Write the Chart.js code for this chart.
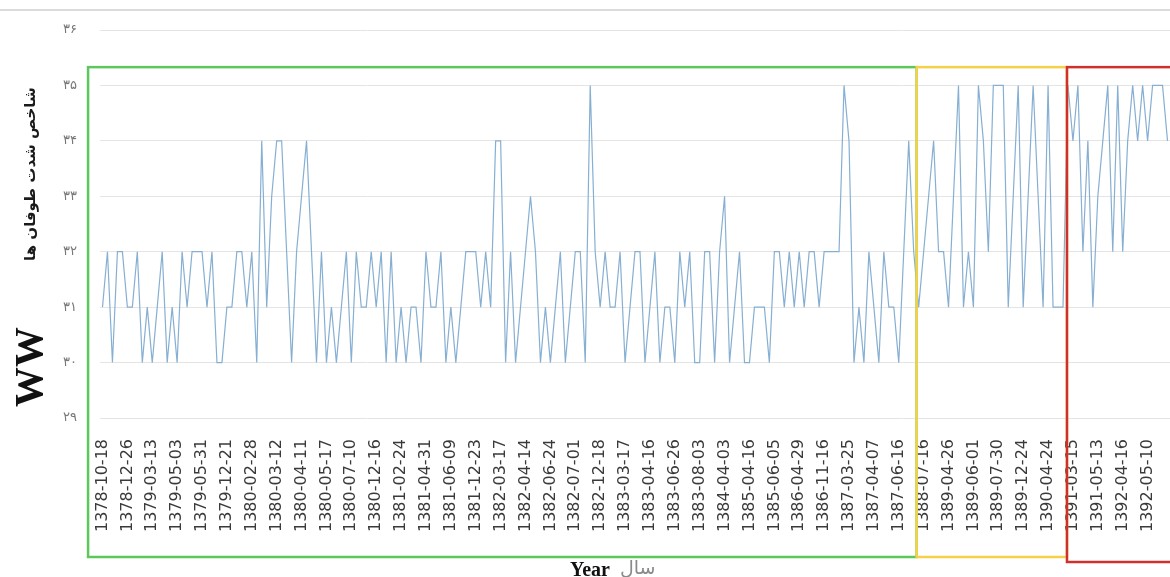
<!DOCTYPE html>
<html>
<head>
<meta charset="utf-8">
<script src="https://cdn.jsdelivr.net/npm/chart.js@4.4.1/dist/chart.umd.min.js"></script>
<style>
  body { margin: 0; background: #fff; }
  #wrap { width: 1170px; height: 577px; position: relative; }
</style>
</head>
<body>
<div id="wrap"><canvas id="storms"></canvas></div>
<script>
// tick labels shown on the x axis (one every 5 records)
const tickLabels = [
    "1378-10-18", "1378-12-26", "1379-03-13", "1379-05-03", "1379-05-31", "1379-12-21",
    "1380-02-28", "1380-03-12", "1380-04-11", "1380-05-17", "1380-07-10", "1380-12-16",
    "1381-02-24", "1381-04-31", "1381-06-09", "1381-12-23", "1382-03-17", "1382-04-14",
    "1382-06-24", "1382-07-01", "1382-12-18", "1383-03-17", "1383-04-16", "1383-06-26",
    "1383-08-03", "1384-04-03", "1385-04-16", "1385-06-05", "1386-04-29", "1386-11-16",
    "1387-03-25", "1387-04-07", "1387-06-16", "1388-07-16", "1389-04-26", "1389-06-01",
    "1389-07-30", "1389-12-24", "1390-04-24", "1391-03-15", "1391-05-13", "1392-04-16",
    "1392-05-10"
];
const labelStep = 5;

// storm intensity index WW, one value per record
const wwValues = [
    31, 32, 30, 32, 32, 31, 31, 32, 30, 31,
    30, 31, 32, 30, 31, 30, 32, 31, 32, 32,
    32, 31, 32, 30, 30, 31, 31, 32, 32, 31,
    32, 30, 34, 31, 33, 34, 34, 32, 30, 32,
    33, 34, 32, 30, 32, 30, 31, 30, 31, 32,
    30, 32, 31, 31, 32, 31, 32, 30, 32, 30,
    31, 30, 31, 31, 30, 32, 31, 31, 32, 30,
    31, 30, 31, 32, 32, 32, 31, 32, 31, 34,
    34, 30, 32, 30, 31, 32, 33, 32, 30, 31,
    30, 31, 32, 30, 31, 32, 32, 30, 35, 32,
    31, 32, 31, 31, 32, 30, 31, 32, 32, 30,
    31, 32, 30, 31, 31, 30, 32, 31, 32, 30,
    30, 32, 32, 30, 32, 33, 30, 31, 32, 30,
    30, 31, 31, 31, 30, 32, 32, 31, 32, 31,
    32, 31, 32, 32, 31, 32, 32, 32, 32, 35,
    34, 30, 31, 30, 32, 31, 30, 32, 31, 31,
    30, 32, 34, 32, 31, 32, 33, 34, 32, 32,
    31, 33, 35, 31, 32, 31, 35, 34, 32, 35,
    35, 35, 31, 33, 35, 31, 33, 35, 33, 31,
    35, 31, 31, 31, 35, 34, 35, 32, 34, 31,
    33, 34, 35, 32, 35, 32, 34, 35, 34, 35,
    34, 35, 35, 35, 34
];

// periods framed on the chart: [first index, last index, colour]
const periods = [
    [-2.9, 163.6, "#5cc85c"],
    [163.6, 193.8, "#f3d24a"],
    [193.8, 216, "#d0302c"]
];

const yTicks = [29, 30, 31, 32, 33, 34, 35, 36];
const yTitle = "شاخص شدت طوفان ها";
const ySymbol = "WW";

const categories = wwValues.map((v, i) => i % labelStep === 0 ? (tickLabels[i / labelStep] || "") : "");

function toPersian(n) {
    return String(n).replace(/[0-9]/g, d => "۰۱۲۳۴۵۶۷۸۹"[d]);
}

const decorations = {
    id: "decorations",
    afterDraw(chart) {
        const ctx = chart.ctx;
        const x = chart.scales.x;
        const y = chart.scales.y;
        const dpr = chart.currentDevicePixelRatio;
        ctx.save();

        // thin frame line at the very top
        ctx.strokeStyle = "#cfcfcf";
        ctx.lineWidth = 1.5;
        ctx.beginPath();
        ctx.moveTo(0, 10);
        ctx.lineTo(chart.width, 10);
        ctx.stroke();

        // coloured period boxes
        const top = y.getPixelForValue(35.33);
        periods.forEach((p, k) => {
            const x0 = x.getPixelForValue(p[0]);
            const x1 = x.getPixelForValue(p[1]);
            const bottom = chart.height - (k === 2 ? 15 : 20);
            ctx.strokeStyle = p[2];
            ctx.lineWidth = 2.5;
            ctx.strokeRect(x0, top, x1 - x0, bottom - top);
        });

        // y axis titles
        ctx.fillStyle = "#1a1a1a";
        ctx.textAlign = "center";
        ctx.textBaseline = "middle";
        ctx.translate(31, y.getPixelForValue(33.4));
        ctx.rotate(-Math.PI / 2);
        ctx.font = "bold 15px 'DejaVu Sans'";
        ctx.fillText(yTitle, 0, 0);
        ctx.setTransform(dpr, 0, 0, dpr, 0, 0);
        ctx.translate(32, y.getPixelForValue(29.92));
        ctx.rotate(-Math.PI / 2);
        ctx.font = "bold 40px 'Liberation Serif'";
        ctx.fillStyle = "#111";
        ctx.fillText(ySymbol, 0, 0);
        ctx.setTransform(dpr, 0, 0, dpr, 0, 0);

        // x axis title
        const cx = (x.left + x.right) / 2;
        ctx.textBaseline = "alphabetic";
        ctx.textAlign = "right";
        ctx.font = "bold 20px 'Liberation Serif'";
        ctx.fillStyle = "#111";
        ctx.fillText("Year", cx - 25, chart.height - 1);
        ctx.textAlign = "left";
        ctx.font = "19px 'DejaVu Sans'";
        ctx.fillStyle = "#8a8a8a";
        ctx.fillText("سال", cx - 15, chart.height - 3);

        ctx.restore();
    }
};

new Chart(document.getElementById("storms").getContext("2d"), {
    type: "line",
    data: {
        labels: categories,
        datasets: [{
            data: wwValues,
            borderColor: "#86afd2",
            borderWidth: 1.2,
            pointRadius: 0,
            tension: 0,
            fill: false
        }]
    },
    options: {
        responsive: true,
        maintainAspectRatio: false,
        animation: false,
        layout: { padding: { top: 30, left: 0, right: 0, bottom: 0 } },
        plugins: {
            legend: { display: false },
            tooltip: { enabled: false }
        },
        scales: {
            x: {
                offset: true,
                grid: { display: false, drawTicks: false },
                border: { display: false },
                ticks: {
                    autoSkip: false,
                    minRotation: 90,
                    maxRotation: 90,
                    padding: 21,
                    color: "#3a3a3a",
                    font: { family: "DejaVu Sans", size: 16 }
                },
                afterFit: scale => {
                    scale.height = 159;
                    scale.paddingLeft = 0;
                    scale.paddingRight = 0;
                }
            },
            y: {
                min: 29,
                max: 36,
                afterBuildTicks: scale => { scale.ticks = yTicks.map(v => ({ value: v })); },
                grid: { color: "#e4e4e4", lineWidth: 1, drawTicks: false },
                border: { display: false },
                ticks: {
                    padding: 23,
                    color: "#777",
                    font: { family: "DejaVu Sans", size: 13 },
                    callback: v => toPersian(v)
                },
                afterFit: scale => {
                    scale.width = 100;
                    scale.paddingTop = 0;
                    scale.paddingBottom = 0;
                }
            }
        }
    },
    plugins: [decorations]
});
</script>
</body>
</html>
